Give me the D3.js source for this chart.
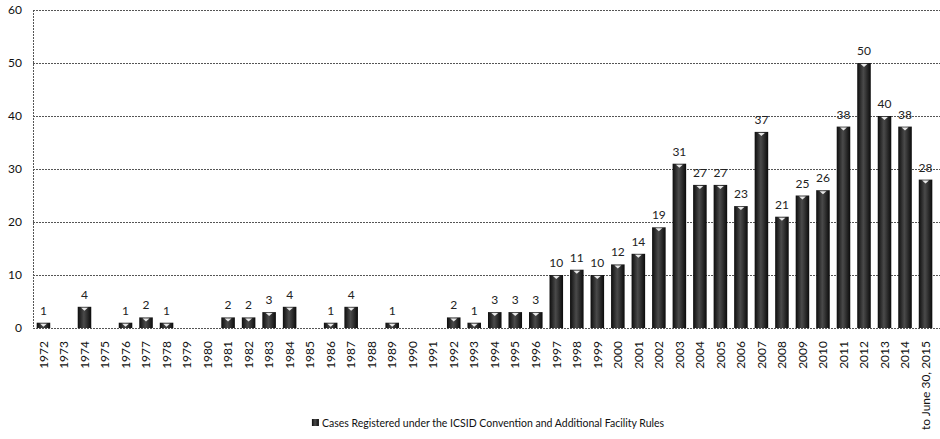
<!DOCTYPE html>
<html>
<head>
<meta charset="utf-8">
<script src="https://cdn.jsdelivr.net/npm/d3@7"></script>
<style>
  html, body { margin: 0; padding: 0; background: #fff; }
  svg { display: block; font-family: Lato, "Open Sans", sans-serif; }
</style>
</head>
<body>
<svg id="chart" width="940" height="439"></svg>
<script>
// ICSID registered cases per year
const categories = ["1972","1973","1974","1975","1976","1977","1978","1979","1980","1981",
  "1982","1983","1984","1985","1986","1987","1988","1989","1990","1991","1992","1993",
  "1994","1995","1996","1997","1998","1999","2000","2001","2002","2003","2004","2005",
  "2006","2007","2008","2009","2010","2011","2012","2013","2014","to June 30, 2015"];
const cases = [1,0,4,0,1,2,1,0,0,2,2,3,4,0,1,4,0,1,0,0,2,1,3,3,3,10,11,10,12,14,19,31,
  27,27,23,37,21,25,26,38,50,40,38,28];
const yTicks = [0,10,20,30,40,50,60];
const seriesName = "Cases Registered under the ICSID Convention and Additional Facility Rules";

const svg = d3.select("#chart");
const margin = { left: 33, right: 4, top: 10, bottom: 111 };
const W = 940, H = 439;
const x = d3.scaleBand().domain(categories).range([margin.left, W - margin.right]).paddingInner(0.34).paddingOuter(0.18);
const y = d3.scaleLinear().domain([0, 60]).range([H - margin.bottom, margin.top]);

// bar shading
const defs = svg.append("defs");
const grad = defs.append("linearGradient").attr("id", "barFill").attr("x1", "0").attr("x2", "1");
grad.append("stop").attr("offset", "0%").attr("stop-color", "#0d0d0d");
grad.append("stop").attr("offset", "45%").attr("stop-color", "#4a4a4a");
grad.append("stop").attr("offset", "60%").attr("stop-color", "#3a3a3a");
grad.append("stop").attr("offset", "100%").attr("stop-color", "#0a0a0a");

// gridlines
svg.append("g")
  .selectAll("line")
  .data(yTicks)
  .join("line")
  .attr("x1", margin.left).attr("x2", W)
  .attr("y1", d => y(d)).attr("y2", d => y(d))
  .attr("stroke", "#555").attr("stroke-width", 1)
  .attr("stroke-dasharray", "2,1")
  .attr("shape-rendering", "crispEdges");

// left axis line
svg.append("line")
  .attr("x1", margin.left).attr("x2", margin.left)
  .attr("y1", y(60)).attr("y2", y(0))
  .attr("stroke", "#555").attr("stroke-dasharray", "2,1")
  .attr("shape-rendering", "crispEdges");

// y tick labels
const yAxis = d3.axisLeft(y).tickValues(yTicks).tickSize(0).tickPadding(11);
svg.append("g")
  .attr("transform", `translate(${margin.left},0)`)
  .call(yAxis)
  .call(g => g.select(".domain").remove())
  .selectAll("text")
  .attr("font-size", 12).attr("fill", "#111").attr("font-family", "Lato, sans-serif");

// bars
const bars = svg.append("g");
categories.forEach((c, i) => {
  const v = cases[i];
  if (v <= 0) return;
  const x0 = x(c), bw = x.bandwidth();
  bars.append("rect")
    .attr("x", x0).attr("y", y(v))
    .attr("width", bw).attr("height", y(0) - y(v))
    .attr("fill", "url(#barFill)");
  // light cap at the top of each column
  bars.append("path")
    .attr("d", `M${x0 + bw * 0.25},${y(v) + 1} L${x0 + bw * 0.75},${y(v) + 1} L${x0 + bw * 0.5},${y(v) + 4} Z`)
    .attr("fill", "#e8e8e8");
});

// value labels
svg.append("g")
  .selectAll("text")
  .data(categories.map((c, i) => ({ c, v: cases[i] })).filter(d => d.v > 0))
  .join("text")
  .attr("x", d => x(d.c) + x.bandwidth() / 2)
  .attr("y", d => y(d.v) - 8)
  .attr("text-anchor", "middle")
  .attr("font-size", 12)
  .attr("fill", "#222")
  .text(d => d.v);

// category labels
const xAxis = d3.axisBottom(x).tickSize(0).tickPadding(0);
svg.append("g")
  .attr("transform", `translate(0,${y(0)})`)
  .call(xAxis)
  .call(g => g.select(".domain").remove())
  .selectAll("text")
  .attr("font-size", 12).attr("fill", "#111").attr("font-family", "Lato, sans-serif")
  .attr("text-anchor", "end")
  .attr("dy", "0.35em")
  .attr("transform", d => `translate(0,13) rotate(-90)`)
  .attr("x", 0).attr("y", 0);

// legend
const legend = svg.append("g").attr("transform", `translate(${493},423)`);
const lt = legend.append("text")
  .attr("x", 0).attr("y", 4)
  .attr("text-anchor", "middle")
  .attr("font-size", 10.5).attr("fill", "#111")
  .text(seriesName);
const tw = lt.node().getComputedTextLength();
legend.append("rect")
  .attr("x", -tw / 2 - 10).attr("y", -4)
  .attr("width", 7).attr("height", 7)
  .attr("fill", "url(#barFill)");
</script>
</body>
</html>
